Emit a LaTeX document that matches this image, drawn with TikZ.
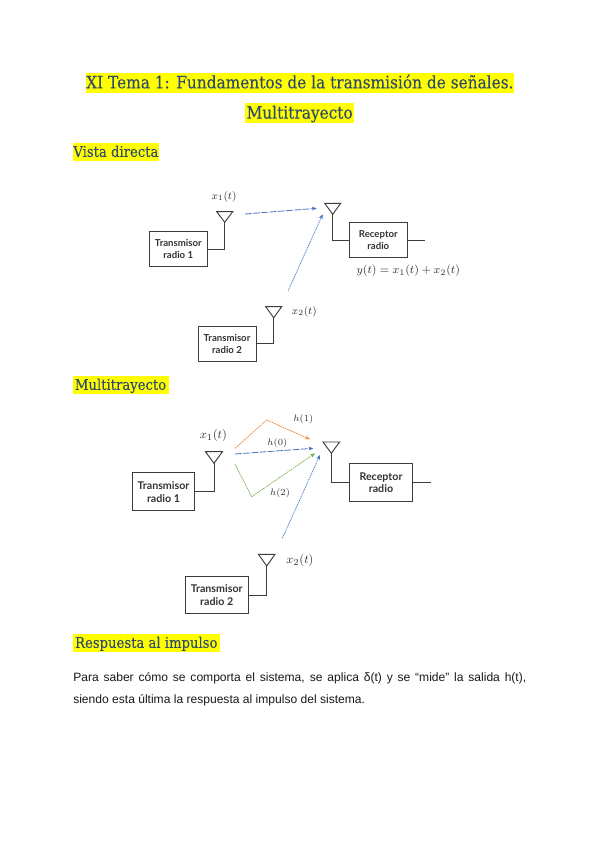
\documentclass[tikz,border=0pt]{standalone}
\usepackage{fontspec}
\usepackage{amsmath}
\usetikzlibrary{arrows.meta}
\setmainfont{Liberation Sans}
\newfontfamily\headfont[FakeStretch=0.9,FakeBold=0.1]{DejaVu Serif}
\newfontfamily\boxfont{Lato}
\definecolor{headcol}{HTML}{2E4A6E}
\definecolor{hl}{HTML}{FFFF00}
\definecolor{wirecol}{HTML}{3C3C3C}
\definecolor{pblue}{HTML}{4472C4}
\definecolor{porange}{HTML}{ED7D31}
\definecolor{pgreen}{HTML}{70AD47}
\tikzset{
  headbase/.style={fill=hl,inner sep=0pt,text=headcol,align=center},
  titlehead/.style={headbase,font=\headfont\fontsize{12.8}{14}\selectfont,minimum height=15pt,text height=11.6pt,text depth=3.2pt},
  subhead/.style={headbase,font=\headfont\fontsize{11}{12}\selectfont,minimum height=13.4pt,text height=10.2pt,text depth=3pt},
  txbox/.style={draw=wirecol,line width=0.7pt,fill=white,inner sep=0pt,align=center,font=\boxfont\bfseries\fontsize{7.2}{8.6}\selectfont,text=black!80},
  txboxb/.style={txbox,font=\boxfont\bfseries\fontsize{8}{9.6}\selectfont},
  wire/.style={draw=wirecol,line width=0.7pt},
  ant/.style={draw=wirecol,line width=0.7pt},
  headtip/.style={-{Stealth[length=3.6pt,width=2.8pt]}},
  pathdash/.style={headtip,draw=pblue,line width=0.6pt,dash pattern=on 5pt off 1.2pt},
  pathdot/.style={headtip,draw=pblue,line width=0.5pt,dash pattern=on 1pt off 0.6pt},
  pathorange/.style={headtip,draw=porange,line width=0.5pt,dash pattern=on 1.2pt off 0.6pt},
  pathgreen/.style={headtip,draw=pgreen,line width=0.5pt,dash pattern=on 1.2pt off 0.6pt},
  mlab/.style={inner sep=0pt,text=black!80},
}
\begin{document}
\begin{tikzpicture}[x=0.75pt,y=-0.75pt]
\useasboundingbox (0,0) rectangle (600,848);
\fill[white] (0,0) rectangle (600,848);
% headings
\node[titlehead,minimum width=321.2pt] (title1) at (299.85,82.7) {XI Tema 1: Fundamentos de la transmisión de señales.};
\node[titlehead,minimum width=81.5pt] (title2) at (299.65,113) {Multitrayecto};
\node[subhead,minimum width=65pt,anchor=west] (h1) at (72.3,152) {Vista directa};
\node[subhead,minimum width=72pt,anchor=west] (h2) at (72.3,385) {Multitrayecto};
\node[subhead,minimum width=110pt,anchor=west] (h3) at (72.7,643) {Respuesta al impulso};
% first diagram
\node[txbox,minimum width=43.5pt,minimum height=26pt] (t1) at (178.3,249) {Transmisor\\radio 1};
\node[txbox,minimum width=43.5pt,minimum height=26pt] (rx) at (378.3,240) {Receptor\\radio};
\node[txbox,minimum width=43.5pt,minimum height=26pt] (t2) at (227,343.8) {Transmisor\\radio 2};
\coordinate (a1) at (224.7,222.3);
\coordinate (ar) at (332.7,214.3);
\coordinate (a2) at (273.7,317.7);
\coordinate (rxout) at (424.7,240);
\draw[ant] (a1) -- ++(-8,-10.6) -- ++(16,0) -- cycle;
\draw[ant] (ar) -- ++(-8,-11) -- ++(16,0) -- cycle;
\draw[ant] (a2) -- ++(-8,-11) -- ++(16,0) -- cycle;
\draw[wire] (a1) |- (t1.east);
\draw[wire] (ar) |- (rx.west);
\draw[wire] (a2) |- (t2.east);
\draw[wire] (rx.east) -- (rxout);
\coordinate (p1s) at (245,214);
\coordinate (p1e) at (316.7,208.3);
\coordinate (p2s) at (288,291);
\coordinate (p2e) at (322.7,214.3);
\draw[pathdash] (p1s) -- (p1e);
\draw[pathdot] (p2s) -- (p2e);
\node[mlab,font=\fontsize{8}{10}\selectfont] (l1) at (224,196.7) {$x_1(t)$};
\node[mlab,font=\fontsize{8}{10}\selectfont] (l2) at (304.3,311.7) {$x_2(t)$};
\node[mlab,font=\fontsize{8}{10}\selectfont,scale=1.06] (l3) at (408.3,271) {$y(t)=x_1(t)+x_2(t)$};
% second diagram
\node[txboxb,minimum width=46.8pt,minimum height=28.5pt] (tb1) at (163.5,491.7) {Transmisor\\radio 1};
\node[txboxb,minimum width=46.8pt,minimum height=28.5pt] (rxb) at (381,482.7) {Receptor\\radio};
\node[txboxb,minimum width=47.5pt,minimum height=27.5pt] (tb2) at (216.7,595) {Transmisor\\radio 2};
\coordinate (b1) at (214,463.3);
\coordinate (br) at (331.3,453.3);
\coordinate (b2) at (266.7,566);
\coordinate (rxbout) at (430.7,482.7);
\draw[ant] (b1) -- ++(-8.5,-11.6) -- ++(17,0) -- cycle;
\draw[ant] (br) -- ++(-8.3,-11.3) -- ++(16.6,0) -- cycle;
\draw[ant] (b2) -- ++(-8.3,-11.7) -- ++(16.6,0) -- cycle;
\draw[wire] (b1) |- (tb1.east);
\draw[wire] (br) |- (rxb.west);
\draw[wire] (b2) |- (tb2.east);
\draw[wire] (rxb.east) -- (rxbout);
\coordinate (os) at (235,448.3);
\coordinate (om) at (266.7,420);
\coordinate (oe) at (310,439.3);
\coordinate (ms) at (235,454);
\coordinate (me) at (313.3,448.3);
\coordinate (gs) at (235,464.3);
\coordinate (gm) at (251.7,496.7);
\coordinate (ge) at (315,453.3);
\coordinate (ds) at (282.3,538.3);
\coordinate (de) at (320,455);
\draw[pathorange] (os) -- (om) -- (oe);
\draw[pathdash] (ms) -- (me);
\draw[pathgreen] (gs) -- (gm) -- (ge);
\draw[pathdot] (ds) -- (de);
\node[mlab,font=\fontsize{7.5}{9}\selectfont] (h1l) at (303.3,419) {$h(1)$};
\node[mlab,font=\fontsize{7.5}{9}\selectfont] (h0l) at (277.3,443.3) {$h(0)$};
\node[mlab,font=\fontsize{7.5}{9}\selectfont] (h2l) at (280,493.3) {$h(2)$};
\node[mlab,font=\fontsize{9.5}{11}\selectfont] (l4) at (213.3,435.7) {$x_1(t)$};
\node[mlab,font=\fontsize{9.5}{11}\selectfont] (l5) at (300,560.7) {$x_2(t)$};
% body
\node[anchor=north west,inner sep=0pt,text width=339.75pt,align=justify,font=\fontsize{9.05}{16.5}\selectfont,text=black!90] (body) at (73,672.5) {Para saber cómo se comporta el sistema, se aplica δ(t) y se “mide” la salida h(t),\linebreak siendo esta última la respuesta al impulso del sistema.};
\end{tikzpicture}
\end{document}
